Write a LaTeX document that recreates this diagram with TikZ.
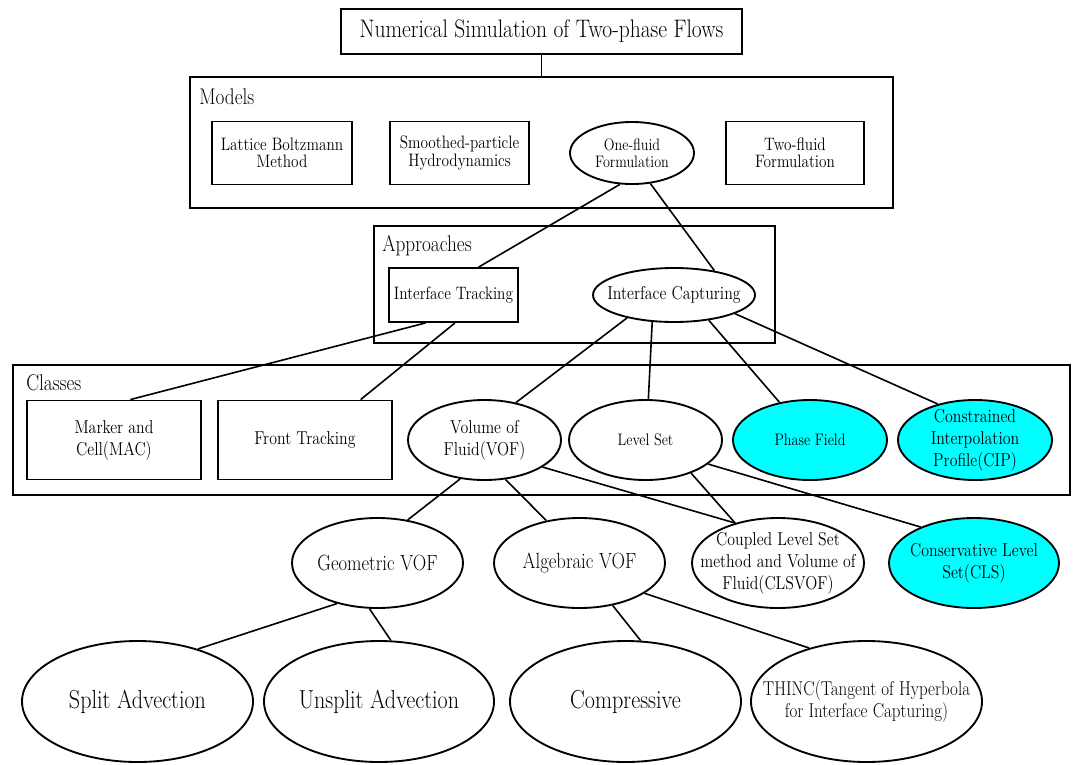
\documentclass[tikz,border=0pt]{standalone}
\usepackage{fontspec}
\setmainfont{Latin Modern Roman}[FakeStretch=0.85]
\usetikzlibrary{shapes.geometric}
\definecolor{aqua}{RGB}{0,255,255}
\tikzset{
  sz/.style 2 args={minimum width=#1*0.75pt, minimum height=#2*0.75pt},
  group/.style={draw, line width=1.6pt, inner sep=0pt},
  box/.style={draw, line width=1.4pt, inner sep=0pt, align=center},
  oval/.style={draw, ellipse, line width=1.4pt, inner sep=0pt},
  edge/.style={line width=1.2pt},
  every label/.style={align=center, inner sep=0pt},
  ftitle/.style={font=\fontsize{19}{22}\selectfont},
  fgrp/.style={font=\fontsize{17}{19}\selectfont},
  fbig/.style={font=\fontsize{19.5}{22}\selectfont},
  fmid/.style={font=\fontsize{16.5}{19}\selectfont},
  fnorm/.style={font=\fontsize{14}{16.5}\selectfont},
  fthinc/.style={font=\fontsize{15}{16.5}\selectfont},
  fmod/.style={font=\fontsize{13.5}{12.8}\selectfont},
  fsmall/.style={font=\fontsize{12.5}{12.5}\selectfont},
}

\begin{document}
\begin{tikzpicture}[x=0.75pt, y=-0.75pt]
\useasboundingbox (0,0) rectangle (1074,764);
% group frames
\node[group, sz={703}{131}] (models) at (541.5,142.5) {};
\node[group, sz={401}{117}] (appr) at (574.5,284.5) {};
\node[group, sz={1057}{130}] (classes) at (541.5,430) {};
\node[fgrp, anchor=west, inner sep=0pt] (modelslbl) at (199,97) {Models};
\node[fgrp, anchor=west, inner sep=0pt] (apprlbl) at (382,246) {Approaches};
\node[fgrp, anchor=west, inner sep=0pt] (classeslbl) at (26,383) {Classes};

\node[box, ftitle, sz={401}{45}] (title) at (541.5,31.5) {Numerical Simulation of Two-phase Flows};

% models
\node[box, fmod, sz={140}{63}] (lbm) at (282,153) {Lattice Boltzmann\\Method};
\node[box, fmod, sz={139}{63}] (sph) at (459.5,153) {Smoothed-particle\\Hydrodynamics};
\node[oval, sz={124}{62}, label={[fsmall]center:One-fluid\\Formulation}] (one) at (632,153) {};
\node[box, fmod, sz={138}{63}] (two) at (795,153) {Two-fluid\\Formulation};

% approaches
\node[box, fmod, sz={129}{54}] (track) at (453.5,295) {Interface Tracking};
\node[oval, sz={162}{54}, label={[fnorm]center:Interface Capturing}] (capt) at (674,295) {};

% classes
\node[box, fnorm, sz={174}{79}] (mac) at (114,440) {Marker and\\Cell(MAC)};
\node[box, fnorm, sz={174}{79}] (front) at (305,440) {Front Tracking};
\node[oval, sz={153}{80}, label={[fnorm]center:Volume of\\Fluid(VOF)}] (vof) at (484.5,440) {};
\node[oval, sz={153}{80}, label={[fsmall]center:Level Set}] (ls) at (645.5,440) {};
\node[oval, fill=aqua, sz={154}{80}, label={[fsmall]center:Phase Field}] (pf) at (810,440) {};
\node[oval, fill=aqua, sz={154}{80}, label={[fnorm]center:Constrained\\Interpolation\\Profile(CIP)}] (cip) at (975,440) {};

% VOF and level set variants
\node[oval, sz={171}{90}, label={[fmid]center:Geometric VOF}] (geo) at (377.5,563) {};
\node[oval, sz={171}{90}, label={[fmid]center:Algebraic VOF}] (alg) at (579.5,563) {};
\node[oval, sz={172}{90}, label={[fnorm]center:Coupled Level Set\\method and Volume of\\Fluid(CLSVOF)}] (clsvof) at (778,563) {};
\node[oval, fill=aqua, sz={170}{90}, label={[fnorm]center:Conservative Level\\Set(CLS)}] (cls) at (974,563) {};

% schemes
\node[oval, sz={231}{121}, label={[fbig]center:Split Advection}] (split) at (137.5,701.5) {};
\node[oval, sz={230}{121}, label={[fbig]center:Unsplit Advection}] (unsplit) at (379,701.5) {};
\node[oval, sz={231}{121}, label={[fbig]center:Compressive}] (comp) at (625.5,701.5) {};
\node[oval, sz={231}{121}, label={[fthinc]center:THINC(Tangent of Hyperbola\\for Interface Capturing)}] (thinc) at (866.5,701.5) {};

\draw[edge, line width=1.4pt] (title.south) -- (models.north);
\foreach \a/\b in {one.249/track.48, one.301/capt.31,
  track.225/mac.68, track.273/front.36,
  capt.206/vof.50, capt.231/ls.86, capt.324/pf.129, capt.343/cip.136,
  vof.238/geo.55, vof.298/alg.128, vof.335/clsvof.137, ls.324/clsvof.137, ls.339/cls.146,
  geo.225/split.41, geo.260/unsplit.79, alg.308/comp.76, alg.335/thinc.137}
{
  \draw[edge] (\a) -- (\b);
}
\end{tikzpicture}
\end{document}
